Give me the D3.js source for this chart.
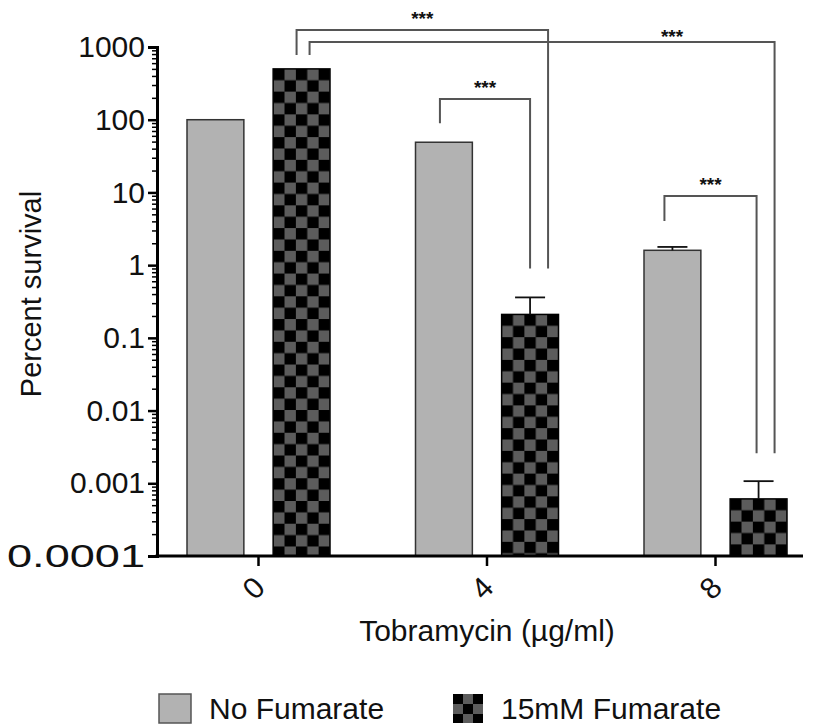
<!DOCTYPE html>
<html>
<head>
<meta charset="utf-8">
<script src="https://cdn.jsdelivr.net/npm/d3@7"></script>
<style>
  body { margin: 0; background: #fff; }
  text { font-family: "Liberation Sans", Arial, Helvetica, sans-serif; fill: #111; }
</style>
</head>
<body>
<div id="chart"></div>
<script>
// ---- data ----
var groups = ["0", "4", "8"];
var series = ["No Fumarate", "15mM Fumarate"];
var noFumarate = [100, 49, 1.6];
var noFumarateErr = [0, 0, 0.18];
var fumarate = [500, 0.21, 0.00061];
var fumarateErr = [0, 0.15, 0.00046];
var yTicks = [0.0001, 0.001, 0.01, 0.1, 1, 10, 100, 1000];
var yTickLabels = ["0.0001", "0.001", "0.01", "0.1", "1", "10", "100", "1000"];
// comparisons: [group index, series index]
var compFrom = [[0, 1], [0, 1], [1, 0], [2, 0]];
var compTo = [[1, 1], [2, 1], [1, 1], [2, 1]];
var compLabel = ["***", "***", "***", "***"];

// ---- layout ----
var W = 815, H = 725;
var bracketY = [30, 42, 99, 196];
var leftShift = [-5, 8, -4, -8], rightShift = [18, 16, 0, -2];
var leftGap = [14, 14, 19, 26], rightGap = [29, 28, 29, 28];
var starShift = [0, 130, 0, 0], starDy = [16, 10, 16, 16];

var svg = d3.select("#chart").append("svg")
  .attr("width", W).attr("height", H);

var y = d3.scaleLog().domain([1e-4, 1e3]).range([556, 47]);
var x = d3.scalePoint().domain(groups).range([258, 715]);
var xSub = d3.scaleBand().domain(series).range([-71, 72]).paddingInner(0.34);
var bw = xSub.bandwidth();

var rows = [];
groups.forEach(function(g, i){
  rows.push({g: g, s: series[0], v: noFumarate[i], e: noFumarateErr[i], k: 0});
  rows.push({g: g, s: series[1], v: fumarate[i], e: fumarateErr[i], k: 1});
});
function barX(d){ return x(d.g) + xSub(d.s); }

var defs = svg.append("defs");
function checker(id, px, py, s){
  var p = defs.append("pattern").attr("id", id)
    .attr("patternUnits", "userSpaceOnUse")
    .attr("x", px).attr("y", py).attr("width", 2 * s).attr("height", 2 * s);
  p.append("rect").attr("width", 2 * s).attr("height", 2 * s).attr("fill", "#000");
  p.append("rect").attr("x", s).attr("y", 0).attr("width", s).attr("height", s).attr("fill", "#5c5c5c");
  p.append("rect").attr("x", 0).attr("y", s).attr("width", s).attr("height", s).attr("fill", "#5c5c5c");
}
rows.forEach(function(d, i){
  if (d.k == 1) checker("chk" + i, barX(d), y(d.v), bw / 5);
});

// bars
svg.append("g").selectAll("rect").data(rows).enter().append("rect")
  .attr("x", barX)
  .attr("y", function(d){ return y(d.v); })
  .attr("width", bw)
  .attr("height", function(d){ return y.range()[0] - y(d.v); })
  .attr("fill", function(d, i){ return d.k == 0 ? "#b2b2b2" : "url(#chk" + i + ")"; })
  .attr("stroke", function(d){ return d.k == 0 ? "#333" : "#000"; })
  .attr("stroke-width", 1.5);

// error bars
var eb = svg.append("g").attr("stroke", "#111").attr("stroke-width", 1.8)
  .selectAll("g").data(rows.filter(function(d){ return d.e > 0; })).enter().append("g");
eb.append("line")
  .attr("x1", function(d){ return barX(d) + bw / 2; })
  .attr("x2", function(d){ return barX(d) + bw / 2; })
  .attr("y1", function(d){ return y(d.v); })
  .attr("y2", function(d){ return y(d.v + d.e); });
eb.append("line")
  .attr("x1", function(d){ return barX(d) + bw / 2 - 15; })
  .attr("x2", function(d){ return barX(d) + bw / 2 + 15; })
  .attr("y1", function(d){ return y(d.v + d.e); })
  .attr("y2", function(d){ return y(d.v + d.e); });

// y axis
var yAxis = svg.append("g").attr("transform", "translate(157,0)")
  .call(d3.axisLeft(y).tickValues(yTicks)
    .tickFormat(function(d, i){ return yTickLabels[i]; })
    .tickSize(9).tickPadding(3));
yAxis.select(".domain").attr("stroke-width", 3);
yAxis.selectAll(".tick line").attr("stroke-width", 2.5);
yAxis.selectAll("text").style("font-size", "30px").attr("fill", "#111");
yAxis.selectAll("text").filter(function(d){ return d == 0.0001; })
  .style("font-size", "32px")
  .attr("textLength", 138).attr("lengthAdjust", "spacingAndGlyphs");

var minors = [];
yTicks.slice(0, -1).forEach(function(t){
  for (var m = 2; m <= 9; m++) minors.push(t * m);
});
var yMinor = svg.append("g").attr("transform", "translate(157,0)")
  .call(d3.axisLeft(y).tickValues(minors).tickFormat("").tickSize(5));
yMinor.select(".domain").remove();
yMinor.selectAll(".tick line").attr("stroke-width", 1.5);

// x axis
svg.append("line").attr("x1", 155.5).attr("x2", 803)
  .attr("y1", 556).attr("y2", 556)
  .attr("stroke", "#000").attr("stroke-width", 3);
var xAxis = svg.append("g").attr("transform", "translate(0,556)")
  .call(d3.axisBottom(x).tickSize(10));
xAxis.select(".domain").remove();
xAxis.selectAll(".tick line").attr("stroke-width", 2.5);
xAxis.selectAll("text")
  .attr("y", 0).attr("dy", null)
  .attr("text-anchor", "middle")
  .attr("dominant-baseline", "central")
  .attr("transform", "translate(-5,32) rotate(-45)")
  .style("font-size", "30px").attr("fill", "#111");

// axis titles
svg.append("text")
  .attr("transform", "translate(41,294) rotate(-90)")
  .attr("text-anchor", "middle")
  .style("font-size", "29px")
  .text("Percent survival");
svg.append("text")
  .attr("x", 487).attr("y", 641)
  .attr("text-anchor", "middle")
  .style("font-size", "30px")
  .text("Tobramycin (\u00b5g/ml)");

// significance brackets
function topOf(c){
  var v = c[1] == 0 ? noFumarate[c[0]] : fumarate[c[0]];
  var e = c[1] == 0 ? noFumarateErr[c[0]] : fumarateErr[c[0]];
  return y(v + e);
}
function centerOf(c){ return x(groups[c[0]]) + xSub(series[c[1]]) + bw / 2; }

var br = svg.append("g");
compFrom.forEach(function(c, i){
  var xl = centerOf(c) + leftShift[i];
  var xr = centerOf(compTo[i]) + rightShift[i];
  var yl = topOf(c) - leftGap[i];
  var yr = topOf(compTo[i]) - rightGap[i];
  br.append("path")
    .attr("d", "M" + xl + "," + yl + "V" + bracketY[i] + "H" + xr + "V" + yr)
    .attr("fill", "none").attr("stroke", "#555").attr("stroke-width", 2);
  br.append("text")
    .attr("x", (xl + xr) / 2 + starShift[i])
    .attr("y", bracketY[i] - starDy[i] + 11)
    .attr("text-anchor", "middle")
    .style("font-size", "19px").style("font-weight", "bold")
    .text(compLabel[i]);
});

// legend
var lg = svg.append("g");
lg.append("rect").attr("x", 159).attr("y", 694).attr("width", 32).attr("height", 29)
  .attr("fill", "#b2b2b2").attr("stroke", "#555").attr("stroke-width", 1.5);
lg.append("text").attr("x", 209).attr("y", 719).style("font-size", "30px").text(series[0]);
checker("chkLegend", 453, 694, 10);
lg.append("rect").attr("x", 453).attr("y", 694).attr("width", 30).attr("height", 29)
  .attr("fill", "url(#chkLegend)");
lg.append("text").attr("x", 501).attr("y", 719).style("font-size", "30px").text(series[1]);
</script>
</body>
</html>
